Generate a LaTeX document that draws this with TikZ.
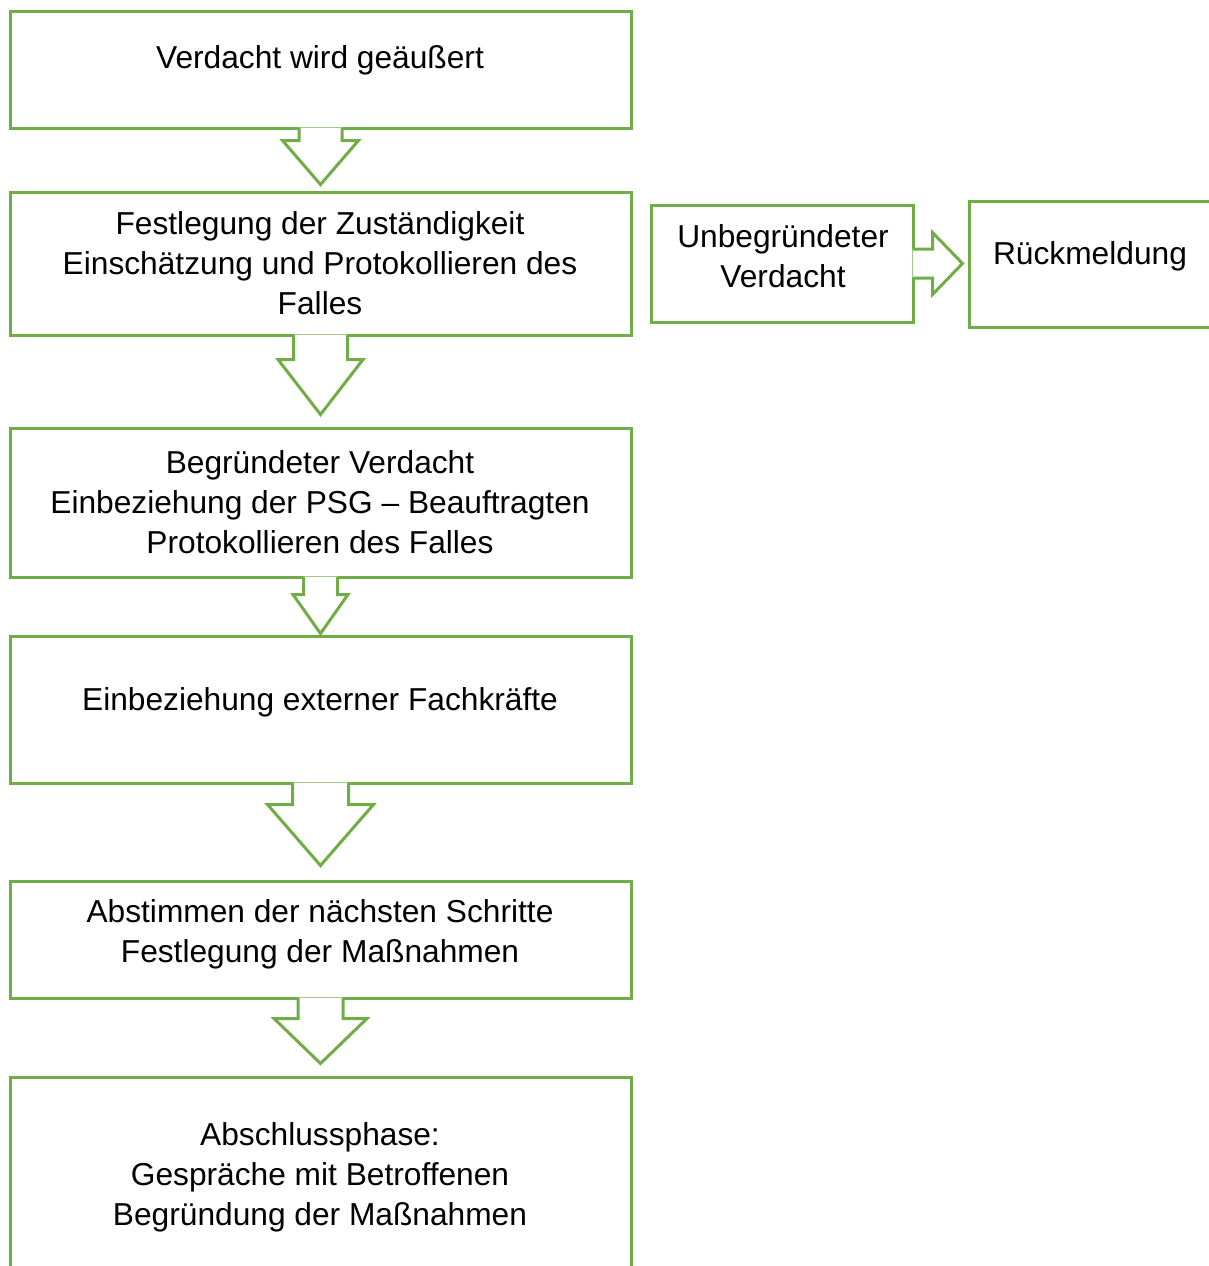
\documentclass[tikz,border=0pt]{standalone}
\usepackage{fontspec}
\setmainfont{Liberation Sans}
\usetikzlibrary{calc}
\definecolor{grn}{HTML}{70AD47}
\tikzset{
  box/.style={draw=grn, line width=3pt, rectangle, inner sep=0pt},
  lbl/.style={font=\fontsize{31.7}{39.7}\selectfont, align=center, anchor=base, inner sep=0pt},
  barrow/.style={draw=grn, line width=3pt, line join=miter}
}
\newcommand\grnArrowDown[5]{%
  \fill[white] ($(#1.south)+(-#2,-2)$) -- ($(#1.south)+(-#2,#3)$) -- ($(#1.south)+(-#4,#3)$) -- ($(#1.south)+(0,#3+#5)$) -- ($(#1.south)+(#4,#3)$) -- ($(#1.south)+(#2,#3)$) -- ($(#1.south)+(#2,-2)$) -- cycle;
  \draw[barrow] ($(#1.south)+(-#2,-1.5)$) -- ($(#1.south)+(-#2,#3)$) -- ($(#1.south)+(-#4,#3)$) -- ($(#1.south)+(0,#3+#5)$) -- ($(#1.south)+(#4,#3)$) -- ($(#1.south)+(#2,#3)$) -- ($(#1.south)+(#2,-1.5)$);}
\newcommand\grnArrowRight[5]{%
  \fill[white] ($(#1.east)+(-2,-#2)$) -- ($(#1.east)+(#3,-#2)$) -- ($(#1.east)+(#3,-#4)$) -- ($(#1.east)+(#3+#5,0)$) -- ($(#1.east)+(#3,#4)$) -- ($(#1.east)+(#3,#2)$) -- ($(#1.east)+(-2,#2)$) -- cycle;
  \draw[barrow] ($(#1.east)+(-1.5,-#2)$) -- ($(#1.east)+(#3,-#2)$) -- ($(#1.east)+(#3,-#4)$) -- ($(#1.east)+(#3+#5,0)$) -- ($(#1.east)+(#3,#4)$) -- ($(#1.east)+(#3,#2)$) -- ($(#1.east)+(-1.5,#2)$);}
\begin{document}
\begin{tikzpicture}[x=1pt,y=-1pt]
\useasboundingbox (0,0) rectangle (1209,1266);
% boxes
\node[box, minimum width=621pt, minimum height=117pt] (b1) at (320.5,69.5) {};
\node[box, minimum width=621pt, minimum height=143pt] (b2) at (320.5,263.5) {};
\node[box, minimum width=621pt, minimum height=149pt] (b3) at (320.5,502.5) {};
\node[box, minimum width=621pt, minimum height=147pt] (b4) at (320.5,709.5) {};
\node[box, minimum width=621pt, minimum height=117pt] (b5) at (320.5,939.5) {};
\node[box, minimum width=621pt, minimum height=223pt] (b6) at (320.5,1188.5) {};
\node[box, minimum width=262pt, minimum height=117pt] (bA) at (782,263.5) {};
\node[box, minimum width=243pt, minimum height=126pt] (bB) at (1090.5,264) {};
% block arrows
\grnArrowDown{b1}{21.5}{11}{38}{44}
\grnArrowDown{b2}{27}{23}{42.5}{55}
\grnArrowDown{b3}{17}{16}{27.5}{39}
\grnArrowDown{b4}{28}{20}{53}{61}
\grnArrowDown{b5}{22.5}{19}{46.5}{45}
\grnArrowRight{bA}{14.5}{18}{31}{30}
% texts (base anchor = baseline of the last line)
\node[lbl] (t1) at (320,68) {Verdacht wird geäußert};
\node[lbl] (t2) at (320,314) {Festlegung der Zuständigkeit\\Einschätzung und Protokollieren des\\Falles};
\node[lbl] (t3) at (320,553) {Begründeter Verdacht\\Einbeziehung der PSG – Beauftragten\\Protokollieren des Falles};
\node[lbl] (t4) at (320,710) {Einbeziehung externer Fachkräfte};
\node[lbl] (t5) at (320,962) {Abstimmen der nächsten Schritte\\Festlegung der Maßnahmen};
\node[lbl] (t6) at (320,1225) {Abschlussphase:\\Gespräche mit Betroffenen\\Begründung der Maßnahmen};
\node[lbl] (tA) at (783,287) {Unbegründeter\\Verdacht};
\node[lbl] (tB) at (1090,264) {Rückmeldung};
\end{tikzpicture}
\end{document}
